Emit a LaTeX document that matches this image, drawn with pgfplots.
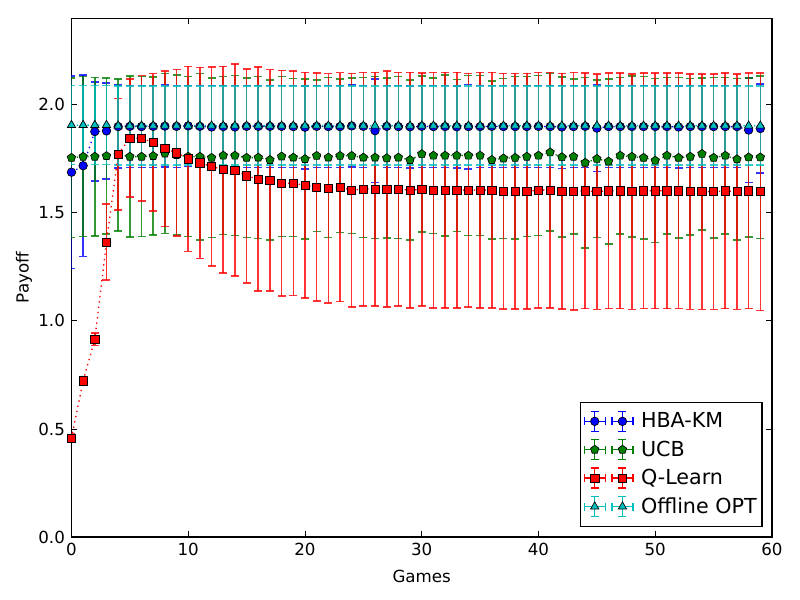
\documentclass[border=0pt]{standalone}
\usepackage{pgfplots}
\usepackage{pgfplotstable}
\pgfplotsset{compat=1.18}
\usepackage{fontspec}
\setmainfont{DejaVu Sans}
\definecolor{cB}{RGB}{0,0,255}
\definecolor{cG}{RGB}{0,128,0}
\definecolor{cR}{RGB}{255,0,0}
\definecolor{cC}{RGB}{0,191,191}

\pgfplotstableread{
x y e
0 1.688 0.445
1 1.718 0.420
2 1.876 0.230
3 1.879 0.222
4 1.899 0.192
5 1.900 0.190
6 1.899 0.190
7 1.900 0.190
8 1.901 0.190
9 1.900 0.190
10 1.902 0.188
11 1.900 0.190
12 1.897 0.192
13 1.899 0.190
14 1.897 0.192
15 1.900 0.190
16 1.900 0.190
17 1.900 0.190
18 1.900 0.190
19 1.899 0.190
20 1.896 0.192
21 1.900 0.190
22 1.899 0.190
23 1.899 0.190
24 1.902 0.190
25 1.900 0.190
26 1.880 0.240
27 1.900 0.190
28 1.899 0.190
29 1.898 0.190
30 1.900 0.190
31 1.899 0.190
32 1.899 0.190
33 1.898 0.190
34 1.899 0.195
35 1.899 0.190
36 1.900 0.190
37 1.899 0.190
38 1.899 0.190
39 1.899 0.190
40 1.900 0.190
41 1.899 0.190
42 1.897 0.192
43 1.899 0.190
44 1.900 0.190
45 1.892 0.200
46 1.899 0.190
47 1.899 0.190
48 1.899 0.190
49 1.899 0.190
50 1.899 0.190
51 1.899 0.190
52 1.897 0.190
53 1.899 0.190
54 1.899 0.190
55 1.899 0.190
56 1.899 0.190
57 1.899 0.190
58 1.883 0.242
59 1.890 0.205
}\hbakm

\pgfplotstableread{
x y e
0 1.755 0.370
1 1.760 0.370
2 1.760 0.367
3 1.763 0.362
4 1.768 0.352
5 1.760 0.373
6 1.760 0.370
7 1.763 0.365
8 1.775 0.370
9 1.768 0.370
10 1.760 0.370
11 1.760 0.385
12 1.755 0.370
13 1.765 0.365
14 1.765 0.370
15 1.755 0.370
16 1.756 0.375
17 1.745 0.370
18 1.761 0.370
19 1.756 0.365
20 1.749 0.370
21 1.764 0.350
22 1.756 0.370
23 1.764 0.355
24 1.764 0.360
25 1.756 0.370
26 1.756 0.375
27 1.753 0.370
28 1.756 0.375
29 1.745 0.370
30 1.772 0.360
31 1.765 0.360
32 1.765 0.372
33 1.765 0.352
34 1.765 0.370
35 1.765 0.370
36 1.745 0.365
37 1.752 0.370
38 1.755 0.375
39 1.760 0.370
40 1.765 0.370
41 1.780 0.365
42 1.758 0.370
43 1.760 0.358
44 1.732 0.394
45 1.750 0.365
46 1.738 0.382
47 1.765 0.362
48 1.760 0.372
49 1.755 0.375
50 1.742 0.380
51 1.765 0.362
52 1.755 0.372
53 1.760 0.362
54 1.773 0.352
55 1.755 0.372
56 1.765 0.362
57 1.748 0.373
58 1.757 0.368
59 1.757 0.375
}\ucb

\pgfplotstableread{
x y e
0 0.457 0.020
1 0.723 0.000
2 0.915 0.028
3 1.364 0.176
4 1.771 0.258
5 1.845 0.273
6 1.845 0.290
7 1.826 0.318
8 1.797 0.360
9 1.778 0.386
10 1.750 0.428
11 1.731 0.442
12 1.715 0.460
13 1.700 0.478
14 1.698 0.490
15 1.671 0.495
16 1.656 0.518
17 1.651 0.512
18 1.637 0.522
19 1.637 0.520
20 1.628 0.522
21 1.619 0.527
22 1.614 0.530
23 1.619 0.530
24 1.605 0.540
25 1.610 0.540
26 1.610 0.540
27 1.610 0.545
28 1.610 0.540
29 1.605 0.545
30 1.608 0.540
31 1.605 0.545
32 1.605 0.545
33 1.605 0.545
34 1.605 0.540
35 1.605 0.545
36 1.605 0.545
37 1.600 0.545
38 1.600 0.545
39 1.600 0.545
40 1.605 0.545
41 1.605 0.545
42 1.600 0.545
43 1.600 0.550
44 1.602 0.545
45 1.598 0.545
46 1.602 0.545
47 1.602 0.545
48 1.598 0.545
49 1.602 0.545
50 1.602 0.545
51 1.602 0.545
52 1.602 0.545
53 1.598 0.545
54 1.598 0.545
55 1.598 0.545
56 1.602 0.545
57 1.598 0.545
58 1.602 0.545
59 1.598 0.550
}\qlearn

\pgfplotstableread{
x y e
0 1.906 0.183
1 1.906 0.183
2 1.906 0.183
3 1.906 0.183
4 1.903 0.183
5 1.903 0.183
6 1.903 0.183
7 1.903 0.183
8 1.903 0.183
9 1.903 0.183
10 1.903 0.183
11 1.903 0.183
12 1.903 0.183
13 1.903 0.183
14 1.903 0.183
15 1.903 0.183
16 1.903 0.183
17 1.903 0.183
18 1.903 0.183
19 1.903 0.183
20 1.903 0.183
21 1.903 0.183
22 1.903 0.183
23 1.903 0.183
24 1.903 0.183
25 1.903 0.183
26 1.903 0.183
27 1.903 0.183
28 1.903 0.183
29 1.903 0.183
30 1.903 0.183
31 1.903 0.183
32 1.903 0.183
33 1.903 0.183
34 1.903 0.183
35 1.903 0.183
36 1.903 0.183
37 1.903 0.183
38 1.903 0.183
39 1.903 0.183
40 1.903 0.183
41 1.903 0.183
42 1.903 0.183
43 1.903 0.183
44 1.903 0.183
45 1.903 0.183
46 1.903 0.183
47 1.903 0.183
48 1.903 0.183
49 1.903 0.183
50 1.903 0.183
51 1.903 0.183
52 1.903 0.183
53 1.903 0.183
54 1.903 0.183
55 1.903 0.183
56 1.903 0.183
57 1.903 0.183
58 1.903 0.183
59 1.903 0.183
}\offopt

\pgfplotsset{
  barsonly/.style={forget plot, color=#1, only marks, mark=none,
    error bars/.cd, y dir=both, y explicit,
    error bar style={solid, line width=1.2pt, opacity=0.8},
    error mark options={rotate=90, solid, #1, line width=1.2pt, mark size=3pt}},
  mainplot/.style={color=#1, line width=1pt, dash pattern=on 1pt off 3pt,
    mark options={solid, draw=black, fill=#1, line width=0.5pt}},
}

\begin{document}
\begin{tikzpicture}
\path[use as bounding box] (-53.6pt,-47.25pt) rectangle (546.4pt,402.75pt);
\begin{axis}[
  scale only axis, width=525.4pt, height=389pt,
  xmin=0, xmax=60, ymin=0, ymax=2.4,
  xtick={0,10,...,60}, ytick={0,0.5,...,2.0},
  minor tick num=0,
  /pgf/number format/assume math mode=true,
  tick style={black, line width=0.6pt}, major tick length=4.3pt,
  axis line style={line width=0.9pt},
  tick label style={font=\fontsize{12.5}{15}\selectfont},
  xticklabel style={yshift=-1.3pt},
  yticklabel style={xshift=-1.4pt, /pgf/number format/.cd, fixed, fixed zerofill, precision=1},
  every axis x label/.style={at={(axis description cs:0.5,-0.0752)}, anchor=center, font=\fontsize{12.5}{15}\selectfont},
  every axis y label/.style={at={(axis description cs:-0.0678,0.5)}, anchor=center, rotate=90, font=\fontsize{12.5}{15}\selectfont},
  xlabel={Games}, ylabel={Payoff},
  legend style={at={(axis description cs:1,0)}, anchor=south east, xshift=-7pt, yshift=7.7pt,
    draw=black, line width=0.9pt, font=\fontsize{15.5}{18.5}\selectfont,
    inner xsep=2pt, inner ysep=6pt, row sep=4.3pt, column sep=3.5pt,
    cells={anchor=west}},
  legend image code/.code={
    \begin{scope}[#1, solid, mark=none, line width=1pt]
      \draw (-7.9pt,0pt)--(7.9pt,0pt) (12.9pt,0pt)--(28.7pt,0pt)
        (-7.9pt,-3pt)--(-7.9pt,3pt) (7.9pt,-3pt)--(7.9pt,3pt)
        (12.9pt,-3pt)--(12.9pt,3pt) (28.7pt,-3pt)--(28.7pt,3pt)
        (0pt,-7.5pt)--(0pt,7.5pt) (20.8pt,-7.5pt)--(20.8pt,7.5pt)
        (-3pt,-7.5pt)--(3pt,-7.5pt) (-3pt,7.5pt)--(3pt,7.5pt)
        (17.8pt,-7.5pt)--(23.8pt,-7.5pt) (17.8pt,7.5pt)--(23.8pt,7.5pt);
    \end{scope}
    \draw[#1, solid] plot[only marks] coordinates {(0pt,0pt) (20.8pt,0pt)};
  },
]
% error bars first (beneath all markers)
\addplot[barsonly=cB] table[x=x, y=y, y error=e] {\hbakm};
\addplot[barsonly=cG] table[x=x, y=y, y error=e] {\ucb};
\addplot[barsonly=cR] table[x=x, y=y, y error=e] {\qlearn};
\addplot[barsonly=cC] table[x=x, y=y, y error=e] {\offopt};
% lines and markers
\addplot[mark=*, mark size=3.2pt, mainplot=cB] table[x=x, y=y] {\hbakm};
\addlegendentry{HBA-KM}
\addplot[mark=pentagon*, mark size=3.3pt, mainplot=cG] table[x=x, y=y] {\ucb};
\addlegendentry{UCB}
\addplot[mark=square*, mark size=3.1pt, mainplot=cR] table[x=x, y=y] {\qlearn};
\addlegendentry{Q-Learn}
\addplot[mark=triangle*, mark size=3.6pt, mainplot=cC] table[x=x, y=y] {\offopt};
\addlegendentry{Offline OPT}
\end{axis}
\end{tikzpicture}
\end{document}
